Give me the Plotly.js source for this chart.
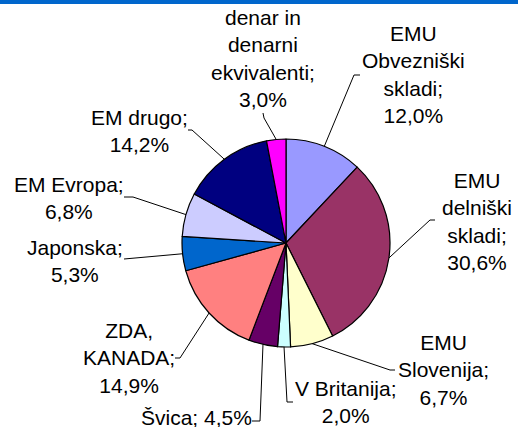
<!DOCTYPE html>
<html>
<head>
<meta charset="utf-8">
<script src="https://cdn.plot.ly/plotly-3.0.1.min.js"></script>
<style>
  html, body { margin: 0; padding: 0; background: #ffffff; }
  #chart { width: 518px; height: 427px; }
</style>
</head>
<body>
<div id="chart"></div>
<script>
// ---- data ----
var categories = [
  "EMU Obvezniški skladi",
  "EMU delniški skladi",
  "EMU Slovenija",
  "V Britanija",
  "Švica",
  "ZDA, KANADA",
  "Japonska",
  "EM Evropa",
  "EM drugo",
  "denar in denarni ekvivalenti"
];
var shares = [12.0, 30.6, 6.7, 2.0, 4.5, 14.9, 5.3, 6.8, 14.2, 3.0];
var colors = ["#9999FF", "#993366", "#FFFFCC", "#CCFFFF", "#660066",
              "#FF8080", "#0066CC", "#CCCCFF", "#000080", "#FF00FF"];

// ---- label layout (display wrapping and positions, in pixels) ----
var wrapNames = [
  "EMU<br>Obvezniški<br>skladi;",
  "EMU<br>delniški<br>skladi;",
  "EMU<br>Slovenija;",
  "V Britanija;",
  "Švica;",
  "ZDA,<br>KANADA;",
  "Japonska;",
  "EM Evropa;",
  "EM drugo;",
  "denar in<br>denarni<br>ekvivalenti;"
];
var wrapSeps = ["<br>", "<br>", "<br>", "<br>", " ", "<br>", "<br>", "<br>", "<br>", "<br>"];
var labelPos = [[413, 75], [477, 221], [443, 370], [346, 402], [196, 417],
                [129, 358], [75, 261], [69, 198], [139, 131], [263, 59]];
// leader line points from text side towards the pie (pie edge point is computed)
var leaderPts = [
  [[360, 75], [354, 75]],
  [[435, 220], [430, 220]],
  [[395, 370], [390, 370]],
  [[293, 402], [287, 402]],
  [[252, 421], [260, 421]],
  [[175, 358], [180, 358]],
  [[124, 259]],
  [[124, 197], [133, 197]],
  [[188, 130], [192, 130]],
  [[263, 113], [264, 118]]
];

var W = 518, H = 427;
var cx = 286, cy = 243, R = 104;

function fmt(v) { return v.toFixed(1).replace(".", ",") + "%"; }
function px(x) { return x / W; }
function py(y) { return 1 - y / H; }

var total = shares.reduce(function (a, b) { return a + b; }, 0);
var annotations = [];
var shapes = [{
  type: "rect", xref: "paper", yref: "paper",
  x0: 0, x1: 1, y0: py(4), y1: 1,
  fillcolor: "#0066CC", line: { width: 0 }, layer: "above"
}];
var cum = 0;
for (var i = 0; i < shares.length; i++) {
  var mid = (cum + shares[i] / 2) / total * 2 * Math.PI;
  cum += shares[i];
  var ex = cx + R * Math.sin(mid), ey = cy - R * Math.cos(mid);
  var pts = leaderPts[i].concat([[ex, ey]]);
  var d = "M" + px(pts[0][0]) + "," + py(pts[0][1]);
  for (var k = 1; k < pts.length; k++) d += " L" + px(pts[k][0]) + "," + py(pts[k][1]);
  shapes.push({ type: "path", xref: "paper", yref: "paper", path: d,
                line: { color: "#000000", width: 1 } });
  annotations.push({
    xref: "paper", yref: "paper",
    x: px(labelPos[i][0]), y: py(labelPos[i][1]),
    xanchor: "center", yanchor: "middle", align: "center",
    showarrow: false,
    text: wrapNames[i] + wrapSeps[i] + fmt(shares[i]),
    font: { family: "Liberation Sans, Arial, sans-serif", size: 21, color: "#000000" }
  });
}

var trace = {
  type: "pie",
  labels: categories,
  values: shares,
  sort: false,
  direction: "clockwise",
  rotation: 0,
  textinfo: "none",
  hoverinfo: "label+percent",
  marker: { colors: colors, line: { color: "#000000", width: 1.2 } },
  domain: { x: [(cx - R) / W, (cx + R) / W], y: [py(cy + R), py(cy - R)] },
  showlegend: false
};

var layout = {
  width: W, height: H,
  margin: { l: 0, r: 0, t: 0, b: 0 },
  paper_bgcolor: "#ffffff",
  plot_bgcolor: "#ffffff",
  showlegend: false,
  shapes: shapes,
  annotations: annotations
};

Plotly.newPlot("chart", [trace], layout, { displayModeBar: false, staticPlot: true });
</script>
</body>
</html>
